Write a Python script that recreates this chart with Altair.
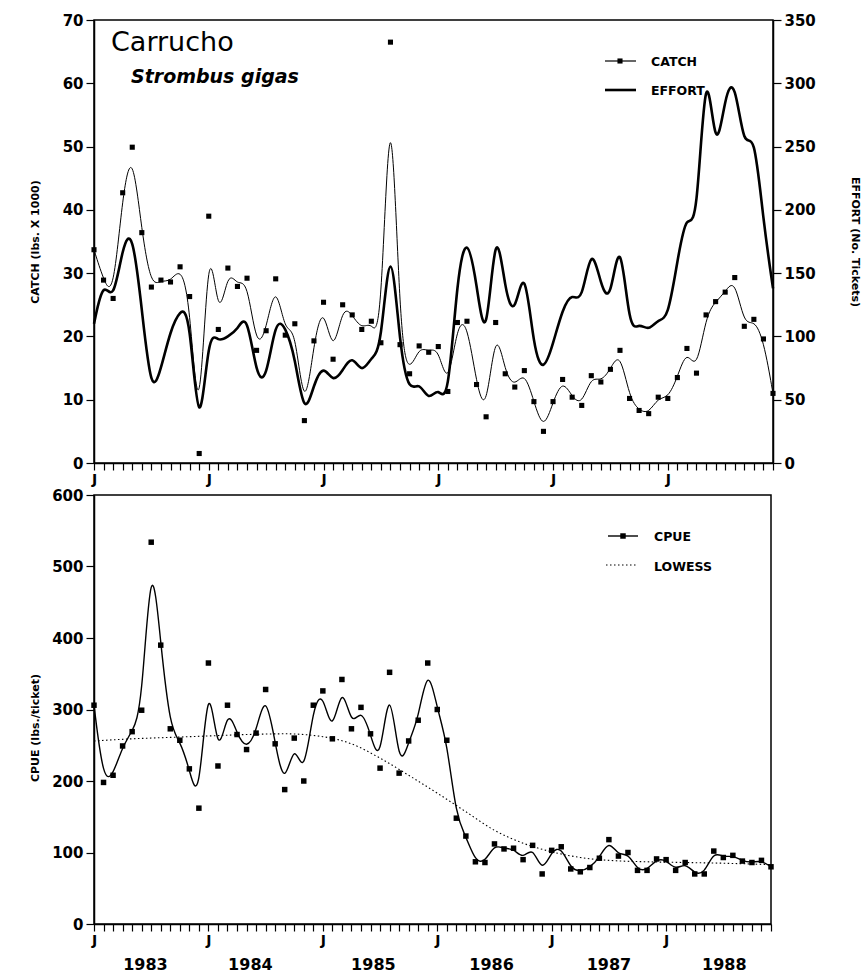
import altair as alt
import pandas as pd

# ---------------- data ----------------
months = list(range(72))  # Jan 1983 .. Dec 1988

catch = [33.7, 28.9, 26.0, 42.7, 49.9, 36.4, 27.8, 28.9, 28.6, 31.0, 26.3, 1.5,
         39.0, 21.1, 30.8, 27.9, 29.2, 17.8, 20.9, 29.1, 20.2, 22.0, 6.7, 19.3,
         25.4, 16.4, 25.0, 23.4, 21.1, 22.4, 19.0, 66.5, 18.7, 14.1, 18.5, 17.5,
         18.4, 11.3, 22.2, 22.4, 12.4, 7.3, 22.2, 14.1, 12.0, 14.6, 9.7, 5.0,
         9.7, 13.2, 10.4, 9.1, 13.8, 12.8, 14.8, 17.8, 10.2, 8.3, 7.8, 10.4,
         10.2, 13.5, 18.1, 14.2, 23.4, 25.5, 27.0, 29.3, 21.6, 22.7, 19.6, 11.0]

effort = [110, 146, 125, 172, 186, 122, 52, 74, 105, 121, 121, 9,
          107, 95, 100, 105, 120, 67, 64, 115, 108, 85, 34, 63,
          78, 63, 73, 86, 70, 84, 87, 189, 88, 55, 65, 48,
          61, 44, 150, 182, 143, 85, 198, 134, 114, 162, 88, 71,
          94, 122, 135, 125, 175, 140, 125, 187, 102, 111, 104, 114,
          113, 160, 200, 180, 334, 235, 292, 305, 245, 265, 190, 138]

cpue = [306, 198, 208, 249, 269, 299, 534, 390, 273, 257, 217, 162,
        365, 221, 306, 265, 244, 267, 328, 252, 188, 260, 200, 306,
        326, 259, 342, 273, 303, 266, 218, 352, 211, 256, 285, 365,
        300, 257, 148, 123, 87, 86, 112, 105, 106, 90, 110, 70,
        103, 108, 77, 73, 79, 92, 118, 95, 100, 75, 75, 91,
        90, 75, 86, 70, 70, 102, 93, 96, 88, 86, 89, 80]

lowess_months = [0, 4, 8, 12, 16, 20, 24, 27, 30, 33, 36, 39, 42, 45, 48, 51, 54, 58, 62, 66, 71]
lowess_vals = [256, 259, 261, 263, 265, 266, 262, 252, 232, 208, 183, 157, 131, 113, 101, 93, 89, 87, 86, 85, 83]

year_labels = ["1983", "1984", "1985", "1986", "1987", "1988"]
year_pos = [5.4, 16.4, 29.3, 41.7, 54.0, 66.1]

catch_ticks = [0, 10, 20, 30, 40, 50, 60, 70]
effort_ticks = [0, 50, 100, 150, 200, 250, 300, 350]
cpue_ticks = [0, 100, 200, 300, 400, 500, 600]

# ---------------- tables ----------------
df = pd.DataFrame({"month": months, "catch": catch, "effort": effort, "cpue": cpue})
low = pd.DataFrame({"month": lowess_months, "lowess": lowess_vals})
yrs = pd.DataFrame({"month": year_pos, "label": year_labels})
one = pd.DataFrame({"k": [0]})

FONT = "DejaVu Sans"
W = 679
H1 = 443
H2 = 429

common = dict(grid=False, labelFont=FONT, labelFontWeight="bold", labelColor="black",
              domainColor="black", domainWidth=1.5, tickColor="black", tickWidth=1.2,
              titleFont=FONT, titleFontWeight="bold", titleColor="black")

xscale = alt.Scale(domain=[0, 71], nice=False, zero=False)
x_axis = alt.Axis(values=months, labelExpr="datum.value % 12 == 0 ? 'J' : ''",
                  tickSize=7, labelPadding=2, labelFontSize=14, title=None,
                  labelFlush=False, labelOverlap=False, **common)

def yaxis(ticks, title, tx, ty, angle, orient="left"):
    return alt.Axis(orient=orient, values=ticks, title=title, titleX=tx, titleY=ty,
                    titleAngle=angle, titleBaseline="middle", titleFontSize=11,
                    labelFontSize=15, tickSize=8, labelPadding=3, labelFlush=False,
                    **common)

# ---------------- top panel ----------------
base = alt.Chart(df)
catch_scale = alt.Scale(domain=[0, 70], nice=False)
catch_line = base.mark_line(interpolate="basis", color="black", strokeWidth=1).encode(
    x=alt.X("month:Q", scale=xscale, axis=x_axis),
    y=alt.Y("catch:Q", scale=catch_scale,
            axis=yaxis(catch_ticks, "CATCH (lbs. X 1000)", -59, H1 / 2, 270)),
)
catch_pts = base.mark_square(size=26, color="black", opacity=1).encode(
    x=alt.X("month:Q", scale=xscale, axis=x_axis),
    y=alt.Y("catch:Q", scale=catch_scale),
)
effort_line = base.mark_line(interpolate="basis", color="black", strokeWidth=2.6).encode(
    x=alt.X("month:Q", scale=xscale, axis=x_axis),
    y=alt.Y("effort:Q", scale=alt.Scale(domain=[0, 350], nice=False),
            axis=yaxis(effort_ticks, "EFFORT (No. Tickets)", 81, H1 / 2, 90, "right")),
)

o = alt.Chart(one)
t_title = o.mark_text(text="Carrucho", font=FONT, fontSize=27, align="left",
                      baseline="alphabetic", color="black").encode(
    x=alt.value(17), y=alt.value(31))
t_sub = o.mark_text(text="Strombus gigas", font=FONT, fontSize=19, fontStyle="italic",
                    fontWeight="bold", align="left", baseline="alphabetic",
                    color="black").encode(x=alt.value(37), y=alt.value(63))
lg_c_line = o.mark_rule(color="black", strokeWidth=1.2).encode(
    x=alt.value(511), x2=alt.value(542), y=alt.value(41))
lg_c_dot = o.mark_square(size=26, color="black", opacity=1).encode(
    x=alt.value(526), y=alt.value(41))
lg_c_txt = o.mark_text(text="CATCH", font=FONT, fontSize=12.5, fontWeight="bold",
                       align="left", baseline="middle", color="black").encode(
    x=alt.value(557), y=alt.value(42))
lg_e_line = o.mark_rule(color="black", strokeWidth=2.6).encode(
    x=alt.value(511), x2=alt.value(542), y=alt.value(70))
lg_e_txt = o.mark_text(text="EFFORT", font=FONT, fontSize=12.5, fontWeight="bold",
                       align="left", baseline="middle", color="black").encode(
    x=alt.value(557), y=alt.value(71))

top = alt.layer(
    alt.layer(catch_line, catch_pts),
    effort_line,
    t_title, t_sub, lg_c_line, lg_c_dot, lg_c_txt, lg_e_line, lg_e_txt,
).resolve_scale(y="independent").properties(width=W, height=H1)

# ---------------- bottom panel ----------------
cpue_scale = alt.Scale(domain=[0, 600], nice=False)
cpue_line = base.mark_line(interpolate="basis", color="black", strokeWidth=1.4).encode(
    x=alt.X("month:Q", scale=xscale, axis=x_axis),
    y=alt.Y("cpue:Q", scale=cpue_scale,
            axis=yaxis(cpue_ticks, "CPUE (lbs./ticket)", -59, H2 / 2 + 18, 270)),
)
cpue_pts = base.mark_square(size=30, color="black", opacity=1).encode(
    x=alt.X("month:Q", scale=xscale, axis=x_axis),
    y=alt.Y("cpue:Q", scale=cpue_scale),
)
lowess_line = alt.Chart(low).mark_line(interpolate="monotone", color="black",
                                       strokeWidth=1.1, strokeDash=[1.5, 2.5]).encode(
    x=alt.X("month:Q", scale=xscale, axis=x_axis),
    y=alt.Y("lowess:Q", scale=cpue_scale),
)
year_txt = alt.Chart(yrs).mark_text(font=FONT, fontSize=16, fontWeight="bold",
                                    baseline="middle", color="black").encode(
    x=alt.X("month:Q", scale=xscale, axis=x_axis),
    y=alt.value(H2 + 41),
    text="label:N",
)
lg_p_line = o.mark_rule(color="black", strokeWidth=1.4).encode(
    x=alt.value(514), x2=alt.value(544), y=alt.value(41))
lg_p_dot = o.mark_square(size=30, color="black", opacity=1).encode(
    x=alt.value(529), y=alt.value(41))
lg_p_txt = o.mark_text(text="CPUE", font=FONT, fontSize=12.5, fontWeight="bold",
                       align="left", baseline="middle", color="black").encode(
    x=alt.value(560), y=alt.value(42))
lg_l_line = o.mark_rule(color="black", strokeWidth=1.1, strokeDash=[1.5, 2.5]).encode(
    x=alt.value(512), x2=alt.value(544), y=alt.value(70))
lg_l_txt = o.mark_text(text="LOWESS", font=FONT, fontSize=12.5, fontWeight="bold",
                       align="left", baseline="middle", color="black").encode(
    x=alt.value(560), y=alt.value(72))

bottom = alt.layer(
    lowess_line, cpue_line, cpue_pts, year_txt,
    lg_p_line, lg_p_dot, lg_p_txt, lg_l_line, lg_l_txt,
).properties(width=W - 2, height=H2)

chart = alt.vconcat(top, bottom, spacing=0).properties(
    padding={"left": 28, "top": 12, "right": 0, "bottom": 0}
).configure(
    background="white"
).configure_view(
    stroke="black", strokeWidth=1.5
).configure_axis(
    grid=False
)

chart.save("out.html", embed_options={"renderer": "svg", "actions": False})
